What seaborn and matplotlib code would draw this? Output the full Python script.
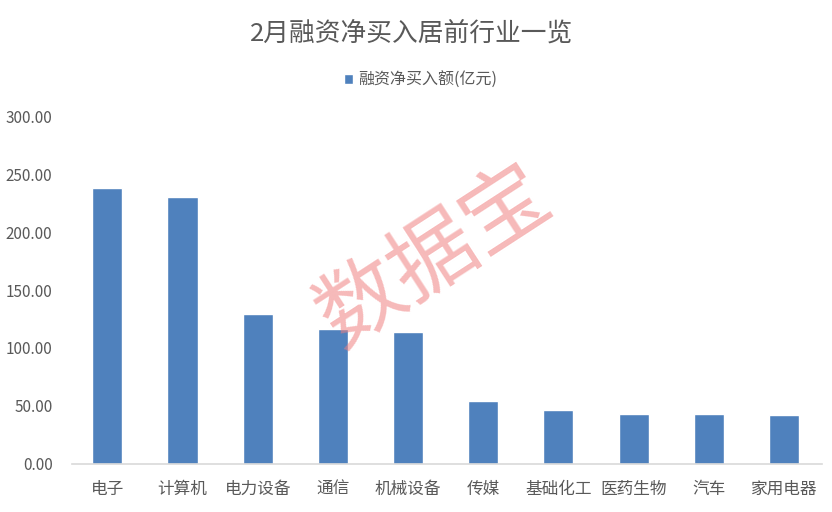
import pandas as pd
import matplotlib
matplotlib.use("Agg")
import matplotlib.pyplot as plt
import seaborn as sns

industries = ['电子', '计算机', '电力设备', '通信', '机械设备',
              '传媒', '基础化工', '医药生物', '汽车', '家用电器']
net_buy = [238.2, 230.4, 129.6, 116.4, 114.1, 54.6, 46.8, 43.1, 43.1, 42.2]
yticks = [0, 50, 100, 150, 200, 250, 300]

df = pd.DataFrame({'industry': industries, 'value': net_buy})

sns.set_style('white')
plt.rcParams['font.family'] = ['Noto Sans CJK SC', 'DejaVu Sans']

fig = plt.figure(figsize=(8.32, 5.12), dpi=100)
ax = fig.add_axes([0.0865, 0.094, 0.901, 0.679])

sns.barplot(data=df, x='industry', y='value', color='#4f81bd', width=0.4,
            saturation=1, ax=ax, label='融资净买入额(亿元)')

ax.set_ylim(0, 300)
ax.set_yticks(yticks)
ax.set_yticklabels([f'{t:.2f}' for t in yticks])
ax.set_xlim(-0.47, 9.5)
ax.set_xlabel('')
ax.set_ylabel('')
ax.tick_params(axis='both', length=0, colors='#595959')
ax.tick_params(axis='x', pad=12, labelsize=12)
ax.tick_params(axis='y', pad=14, labelsize=11)
for s in ['top', 'right', 'left']:
    ax.spines[s].set_visible(False)
ax.spines['bottom'].set_color('#d9d9d9')
ax.spines['bottom'].set_linewidth(1.2)

fig.text(0.495, 0.935, '2月融资净买入居前行业一览', ha='center', va='center',
         fontsize=18.5, color='#595959')
ax.legend(loc='center', bbox_to_anchor=(0.465, 1.103), frameon=False,
          fontsize=11.5, labelcolor='#595959', handlelength=0.6,
          handleheight=0.6, handletextpad=0.3)

# watermark
fig.text(0.523, 0.497, '数据宝', ha='center', va='center', fontsize=62,
         color='#f08080', alpha=0.55, rotation=33)

fig.savefig('out.png', dpi=100)
